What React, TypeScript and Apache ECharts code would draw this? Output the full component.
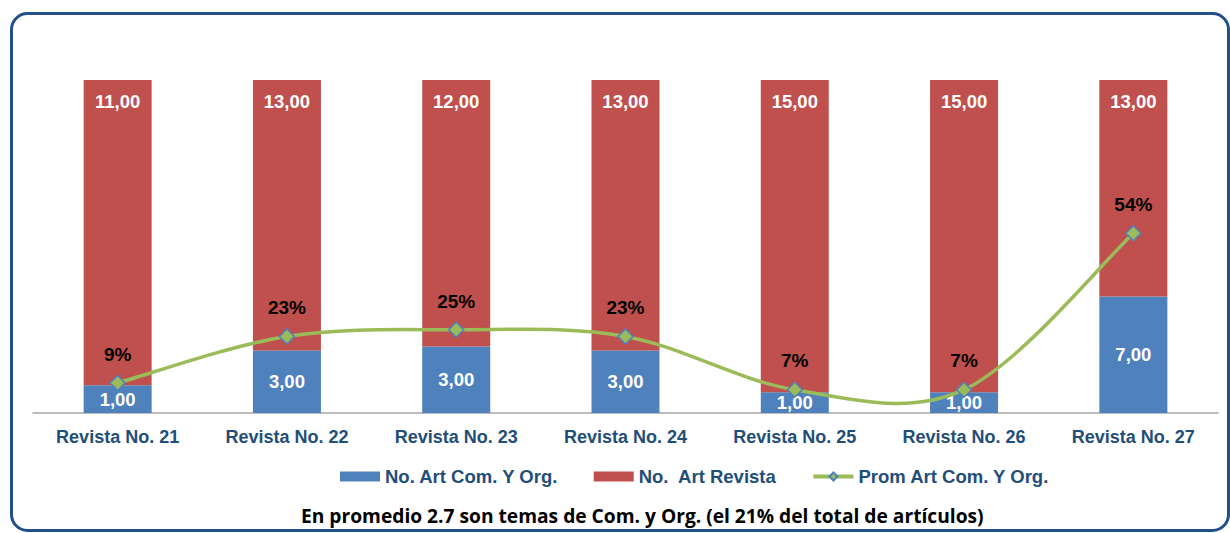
import React, { useEffect, useRef } from "react";
import * as echarts from "echarts";

const categories = [
  "Revista No. 21",
  "Revista No. 22",
  "Revista No. 23",
  "Revista No. 24",
  "Revista No. 25",
  "Revista No. 26",
  "Revista No. 27",
];
const artComOrg = [1, 3, 3, 3, 1, 1, 7];
const artRevista = [11, 13, 12, 13, 15, 15, 13];
const promPct = [9, 23, 25, 23, 7, 7, 54];

const seriesNames = ["No. Art Com. Y Org.", "No.  Art Revista", "Prom Art Com. Y Org."];
const footText = "En promedio 2.7 son temas de Com. y Org. (el 21% del total de artículos)";

const fmt = (v: number) => v.toFixed(2).replace(".", ",");

export default function App() {
  const ref = useRef<HTMLDivElement>(null);
  useEffect(() => {
    if (!ref.current) return;
    const chart = echarts.init(ref.current, undefined, { renderer: "svg" });
    const totals = artComOrg.map((v, i) => v + artRevista[i]);
    const blueShare = artComOrg.map((v, i) => v / totals[i]);
    const redShare = artRevista.map((v, i) => v / totals[i]);
    const pctData = promPct.map((v, i) => [i, v / 100]);
    const font = "Liberation Sans, Arial, sans-serif";
    const green = "#9BBB59";
    chart.setOption({
      animation: false,
      textStyle: { fontFamily: font },
      graphic: [
        {
          type: "rect",
          shape: { x: 11.5, y: 13.5, width: 1217, height: 517, r: 16 },
          style: { fill: "none", stroke: "#24508A", lineWidth: 3 },
          z: -1,
        },
      ],
      title: {
        text: footText,
        left: 296,
        top: 501,
        textStyle: {
          fontFamily: "Open Sans, sans-serif",
          fontWeight: "bold",
          fontSize: 19.2,
          color: "#000000",
        },
      },
      legend: {
        top: 462,
        left: 335,
        itemWidth: 40,
        itemHeight: 10,
        itemGap: 35,
        textStyle: { fontFamily: font, fontWeight: "bold", fontSize: 18.5, color: "#1F4E79" },
        data: [
          { name: seriesNames[0], icon: "rect" },
          { name: seriesNames[1], icon: "rect" },
          { name: seriesNames[2], lineStyle: { color: green, width: 4, opacity: 1 } },
        ],
      },
      grid: { left: 33, right: 12, top: 80, bottom: 120 },
      xAxis: {
        type: "category",
        data: categories,
        axisLine: { lineStyle: { color: "#A6A6A6", width: 1.5 } },
        axisTick: { show: false },
        axisLabel: {
          fontFamily: font,
          fontWeight: "bold",
          fontSize: 18,
          color: "#1F4E79",
          margin: 15,
        },
      },
      yAxis: { type: "value", min: 0, max: 1, show: false, splitLine: { show: false } },
      series: [
        {
          name: seriesNames[0],
          type: "bar",
          stack: "a",
          barWidth: 68,
          data: blueShare,
          itemStyle: { color: "#4F81BD" },
          label: {
            show: true,
            position: "inside",
            color: "#ffffff",
            fontWeight: "bold",
            fontSize: 18.5,
            fontFamily: font,
            formatter: (p: any) => fmt(artComOrg[p.dataIndex]),
          },
        },
        {
          name: seriesNames[1],
          type: "bar",
          stack: "a",
          barWidth: 68,
          data: redShare,
          itemStyle: { color: "#C0504D" },
          label: {
            show: true,
            position: "insideTop",
            distance: 12,
            color: "#ffffff",
            fontWeight: "bold",
            fontSize: 18.5,
            fontFamily: font,
            formatter: (p: any) => fmt(artRevista[p.dataIndex]),
          },
        },
        {
          type: "custom",
          silent: true,
          z: 4,
          data: pctData,
          encode: { x: 0, y: 1 },
          renderItem: (params: any, api: any) => {
            const i = params.dataIndex;
            const n = pctData.length;
            if (i >= n - 1) return null;
            const pt = (k: number) => {
              const kk = Math.max(0, Math.min(n - 1, k));
              return api.coord([kk, pctData[kk][1]]);
            };
            const p0 = pt(i - 1);
            const p1 = pt(i);
            const p2 = pt(i + 1);
            const p3 = pt(i + 2);
            const t = 1 / 6;
            const c1 = [p1[0] + (p2[0] - p0[0]) * t, p1[1] + (p2[1] - p0[1]) * t];
            const c2 = [p2[0] - (p3[0] - p1[0]) * t, p2[1] - (p3[1] - p1[1]) * t];
            return {
              type: "bezierCurve",
              shape: {
                x1: p1[0], y1: p1[1],
                x2: p2[0], y2: p2[1],
                cpx1: c1[0], cpy1: c1[1],
                cpx2: c2[0], cpy2: c2[1],
              },
              style: { stroke: green, lineWidth: 3.5, fill: "none" },
            };
          },
        },
        {
          name: seriesNames[2],
          type: "line",
          data: pctData,
          symbol: "diamond",
          symbolSize: 15,
          lineStyle: { color: green, width: 3, opacity: 0 },
          itemStyle: { color: green, borderColor: "#4F81BD", borderWidth: 1.5 },
          label: {
            show: true,
            position: "top",
            distance: 11,
            color: "#000000",
            fontWeight: "bold",
            fontSize: 19,
            fontFamily: font,
            formatter: (p: any) => promPct[p.dataIndex] + "%",
          },
          z: 5,
        },
      ],
    });
    return () => chart.dispose();
  }, []);
  return (
    <div style={{ position: "absolute", left: 0, top: 0, width: 1230, height: 533, background: "#fff" }}>
      <div ref={ref} style={{ width: 1230, height: 533 }} />
    </div>
  );
}
